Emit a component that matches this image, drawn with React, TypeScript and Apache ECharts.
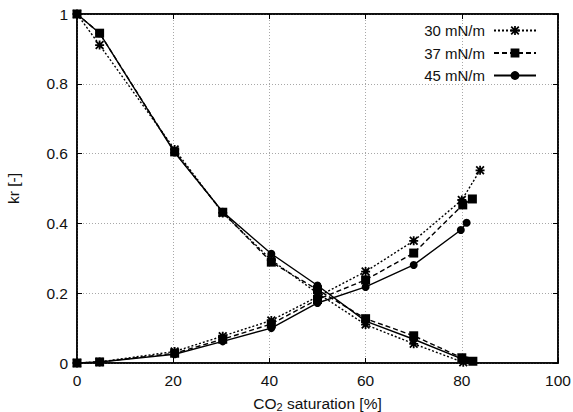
import React, { useEffect, useRef } from "react";
import * as echarts from "echarts";

// CO2 saturation [%] sample points and relative permeabilities for each interfacial tension
const series30 = "30 mN/m";
const series37 = "37 mN/m";
const series45 = "45 mN/m";

const x30Falling = [0, 4.7, 20.3, 30.3, 40.4, 50, 60, 70, 80.3];
const kr30Falling = [1, 0.911, 0.612, 0.43, 0.295, 0.2, 0.11, 0.055, 0.002];
const x30Rising = [0, 4.7, 20.3, 30.3, 40.4, 50, 60, 70, 80, 83.8];
const kr30Rising = [0, 0.003, 0.033, 0.077, 0.122, 0.19, 0.262, 0.35, 0.467, 0.552];

const x37Falling = [0, 4.7, 20.3, 30.3, 40.4, 50, 60, 70, 80, 82.3];
const kr37Falling = [1, 0.945, 0.605, 0.432, 0.289, 0.21, 0.127, 0.078, 0.015, 0.005];
const x37Rising = [0, 4.7, 20.3, 30.3, 40.4, 50, 60, 70, 80.2, 82.2];
const kr37Rising = [0, 0.003, 0.028, 0.068, 0.112, 0.182, 0.238, 0.315, 0.453, 0.47];

const x45Falling = [0, 4.7, 20.3, 30.3, 40.4, 50, 60, 70, 80, 81];
const kr45Falling = [1, 0.945, 0.603, 0.433, 0.313, 0.222, 0.12, 0.068, 0.012, 0.008];
const x45Rising = [0, 4.7, 20.3, 30.3, 40.4, 50, 60, 70, 79.8, 81];
const kr45Rising = [0, 0.003, 0.025, 0.062, 0.1, 0.172, 0.218, 0.281, 0.381, 0.402];

const xTicks = [0, 20, 40, 60, 80, 100];
const yTicks = [0, 0.2, 0.4, 0.6, 0.8, 1];

const FONT = "'Liberation Sans', Arial, Helvetica, sans-serif";

// eight-armed asterisk marker
const ASTERISK =
  "path://M0 4 L10 4 L10 6 L0 6 Z M4 0 L6 0 L6 10 L4 10 Z " +
  "M1.4 0 L10 8.6 L8.6 10 L0 1.4 Z M8.6 0 L10 1.4 L1.4 10 L0 8.6 Z";

const pairs = (xs: number[], ys: number[]) => xs.map((x, i) => [x, ys[i]]);

function lineSeries(
  name: string,
  xs: number[],
  ys: number[],
  symbol: string,
  symbolSize: number,
  dash: "solid" | number[]
) {
  return {
    name,
    type: "line",
    data: pairs(xs, ys),
    symbol,
    symbolSize,
    showAllSymbol: true,
    itemStyle: { color: "#000", borderWidth: 0 },
    lineStyle: { color: "#000", width: 1.4, type: dash },
    emphasis: { disabled: true },
  };
}

export default function App() {
  const ref = useRef<HTMLDivElement>(null);

  useEffect(() => {
    if (!ref.current) return;
    const chart = echarts.init(ref.current, undefined, { renderer: "svg" });

    const dotted = [2, 2];
    const dashed = [5, 3];

    const gridLine = {
      show: true,
      lineStyle: { color: "#a8a8a8", width: 1, type: [1, 2] as number[] },
    };

    chart.setOption({
      animation: false,
      backgroundColor: "#fff",
      textStyle: { fontFamily: FONT },
      grid: {
        left: 77,
        right: 15,
        top: 14,
        bottom: 49,
        outerBoundsMode: "none",
        containLabel: false,
        show: true,
        borderColor: "#000",
        borderWidth: 1.5,
        backgroundColor: "transparent",
      },
      legend: {
        orient: "vertical",
        right: 31,
        top: 18,
        align: "right",
        itemWidth: 42,
        itemHeight: 11,
        itemGap: 7.5,
        selectedMode: false,
        textStyle: { fontFamily: FONT, fontSize: 15, color: "#111", padding: [0, 4, 0, 0] },
        data: [series30, series37, series45],
      },
      xAxis: [
        {
          type: "value",
          min: 0,
          max: 100,
          interval: 20,
          axisLine: { show: true, onZero: false, lineStyle: { color: "#000", width: 1.5 } },
          axisTick: { show: true, inside: true, length: 5, lineStyle: { color: "#000" } },
          axisLabel: {
            color: "#111",
            fontSize: 15.5,
            fontFamily: FONT,
            margin: 9,
            formatter: (v: number) => (xTicks.includes(v) ? String(v) : ""),
          },
          splitLine: gridLine,
          name: "CO{sub|2} saturation [%]",
          nameLocation: "middle",
          nameGap: 31,
          nameTextStyle: {
            color: "#111",
            fontSize: 15.5,
            fontFamily: FONT,
            rich: {
              sub: { fontSize: 11, verticalAlign: "bottom", padding: [7, 0, 0, 0], color: "#111", fontFamily: FONT },
            },
          },
        },
        {
          type: "value",
          position: "top",
          min: 0,
          max: 100,
          interval: 20,
          axisLine: { show: true, onZero: false, lineStyle: { color: "#000", width: 1.5 } },
          axisTick: { show: true, inside: true, length: 5, lineStyle: { color: "#000" } },
          axisLabel: { show: false },
          splitLine: { show: false },
        },
      ],
      yAxis: [
        {
          type: "value",
          min: 0,
          max: 1,
          interval: 0.2,
          axisLine: { show: true, onZero: false, lineStyle: { color: "#000", width: 1.5 } },
          axisTick: { show: true, inside: true, length: 5, lineStyle: { color: "#000" } },
          axisLabel: {
            color: "#111",
            fontSize: 15.5,
            fontFamily: FONT,
            margin: 9,
            formatter: (v: number) => {
              const t = yTicks.find((k) => Math.abs(k - v) < 1e-9);
              return t === undefined ? "" : String(t);
            },
          },
          splitLine: gridLine,
          name: "kr [-]",
          nameLocation: "middle",
          nameGap: 56,
          nameRotate: 90,
          nameTextStyle: { color: "#111", fontSize: 15.5, fontFamily: FONT },
        },
        {
          type: "value",
          position: "right",
          min: 0,
          max: 1,
          interval: 0.2,
          axisLine: { show: true, onZero: false, lineStyle: { color: "#000", width: 1.5 } },
          axisTick: { show: true, inside: true, length: 5, lineStyle: { color: "#000" } },
          axisLabel: { show: false },
          splitLine: { show: false },
        },
      ],
      series: [
        lineSeries(series30, x30Falling, kr30Falling, ASTERISK, 9, dotted),
        lineSeries(series30, x30Rising, kr30Rising, ASTERISK, 9, dotted),
        lineSeries(series37, x37Falling, kr37Falling, "rect", 9, dashed),
        lineSeries(series37, x37Rising, kr37Rising, "rect", 9, dashed),
        lineSeries(series45, x45Falling, kr45Falling, "circle", 8, "solid"),
        lineSeries(series45, x45Rising, kr45Rising, "circle", 8, "solid"),
      ],
    });

    return () => chart.dispose();
  }, []);

  return (
    <div
      ref={ref}
      style={{ position: "fixed", left: 0, top: 0, width: 573, height: 412, background: "#fff" }}
    />
  );
}
